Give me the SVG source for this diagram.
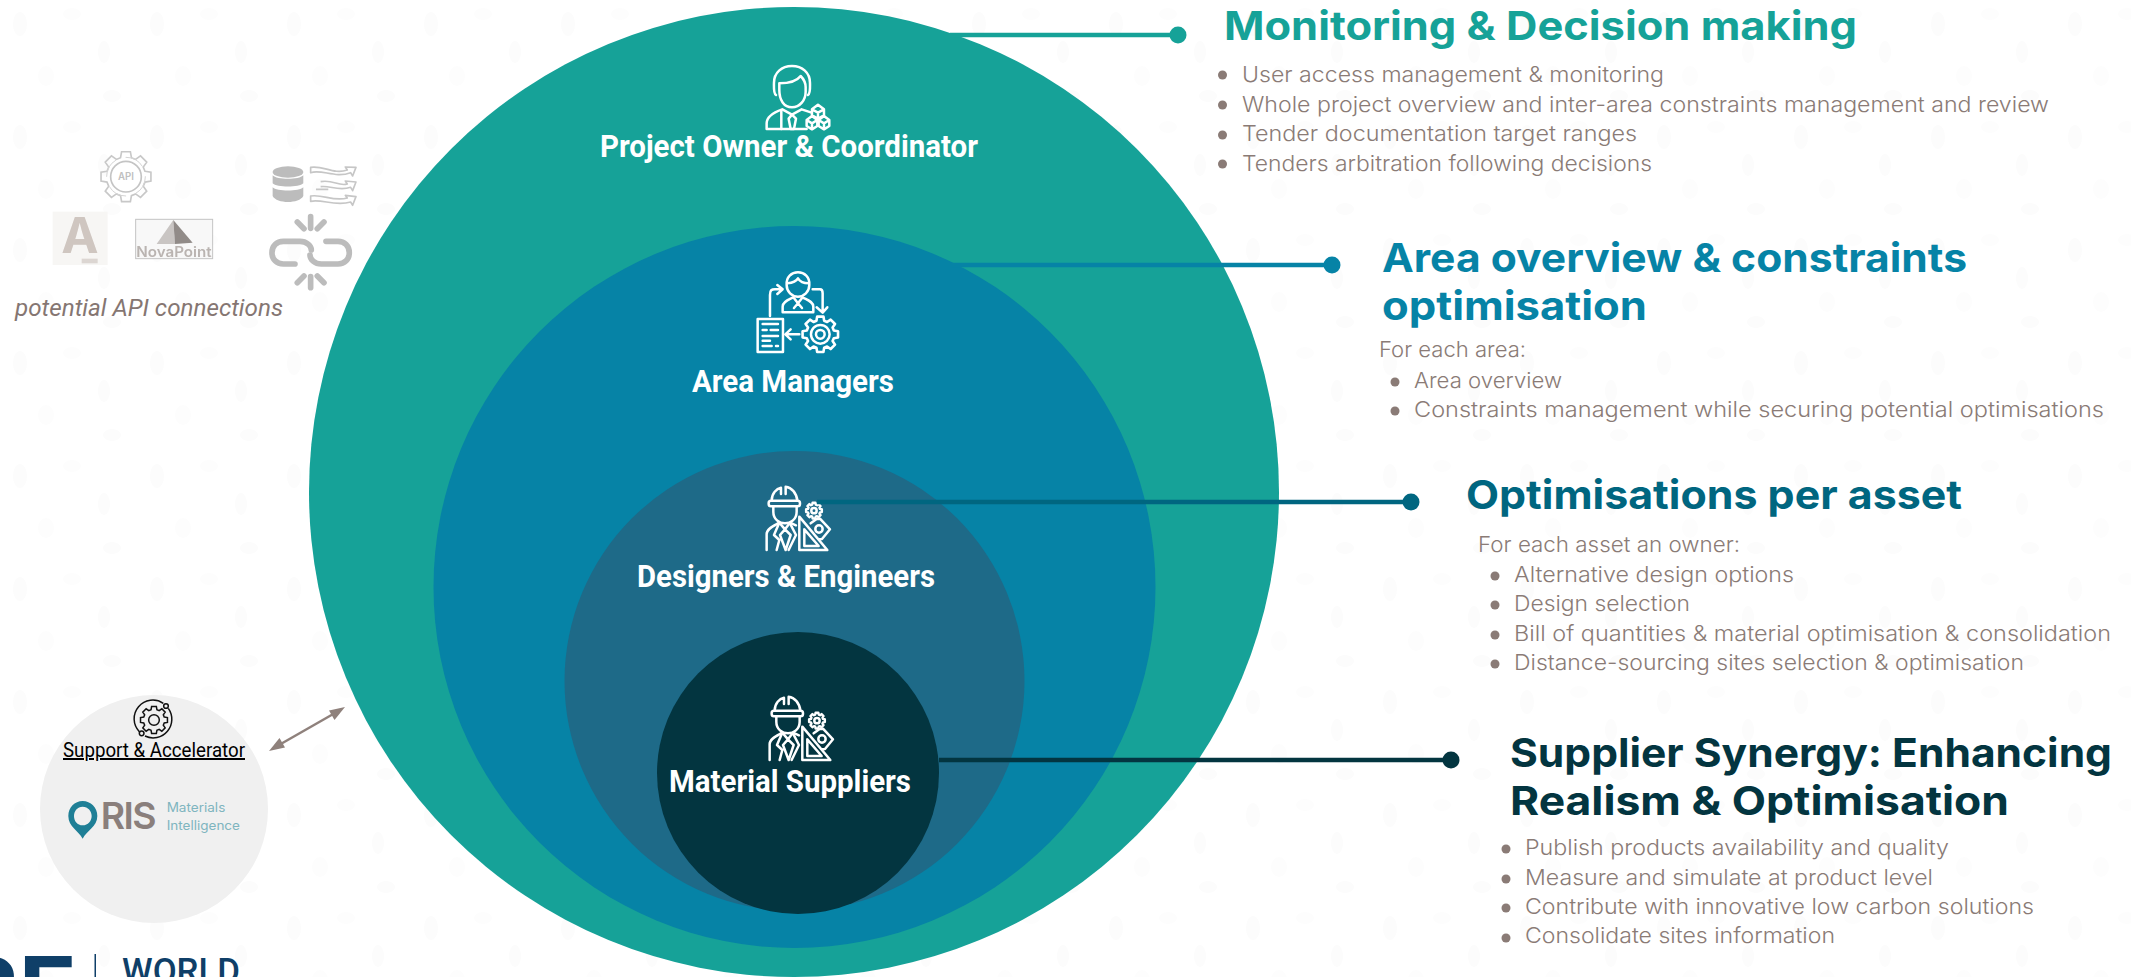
<svg xmlns="http://www.w3.org/2000/svg" width="2131" height="977" viewBox="0 0 2131 977">
<style>
text{font-family:"Inter","Liberation Sans",sans-serif}
.lbl{font-family:"Roboto","Liberation Sans",sans-serif;font-weight:700;font-size:31px;fill:#fff}
.rob{font-family:"Roboto","Liberation Sans",sans-serif}
.ttl{font-weight:700;font-size:40px}
.txt{font-weight:300;font-size:22px;fill:#8a7b76}
.bul{fill:#8a7b76}
.ico{fill:none;stroke:#fff;stroke-width:7.5;stroke-linejoin:round;stroke-linecap:round}
.gry{fill:none;stroke:#c4c4c4;stroke-width:5;stroke-linejoin:round}
.con{fill:none;stroke-width:4.5}
</style>
<defs>
<polygon id="gear" points="7.5,-2.15 9.85,-1.74 9.85,1.74 7.5,2.15 6.82,3.78 8.19,5.74 5.74,8.19 3.78,6.82 2.15,7.5 1.74,9.85 -1.74,9.85 -2.15,7.5 -3.78,6.82 -5.74,8.19 -8.19,5.74 -6.82,3.78 -7.5,2.15 -9.85,1.74 -9.85,-1.74 -7.5,-2.15 -6.82,-3.78 -8.19,-5.74 -5.74,-8.19 -3.78,-6.82 -2.15,-7.5 -1.74,-9.85 1.74,-9.85 2.15,-7.5 3.78,-6.82 5.74,-8.19 8.19,-5.74 6.82,-3.78"/>
<pattern id="bg" width="137" height="113" patternUnits="userSpaceOnUse">
<ellipse cx="20" cy="24" rx="7" ry="12" fill="#fcfcfc"/><ellipse cx="72" cy="14" rx="9" ry="6" fill="#fdfdfd"/><ellipse cx="104" cy="52" rx="6" ry="11" fill="#fcfcfc"/><ellipse cx="46" cy="76" rx="8" ry="10" fill="#fdfdfd"/><ellipse cx="112" cy="96" rx="9" ry="6" fill="#fcfcfc"/>
</pattern>
<filter id="soft" x="-20%" y="-20%" width="140%" height="140%"><feGaussianBlur stdDeviation="2.2"/></filter>
<filter id="softer" x="-20%" y="-20%" width="140%" height="140%"><feGaussianBlur stdDeviation="5"/></filter>
<g id="engineer">
<path d="M455 92C455 70 470 56 483 53V72M497 72V50C515 52 530 70 532 92"/>
<rect x="446" y="92" width="94" height="17" rx="7"/>
<path d="M460 110V125C460 148 478 160 495 160C512 160 530 148 530 125V110"/>
<path d="M440 240V192C440 176 460 168 478 158L495 178L510 158L528 166"/>
<path d="M478 158L462 195L478 210L470 240M495 178L480 195L497 240L512 195L495 178M510 160L528 195L506 240"/>
<path d="M538 240V140L622 240ZM553 228V178L596 228Z"/>
<use href="#gear" transform="translate(582 122) scale(2.4)" stroke-width="3"/>
<circle cx="582" cy="122" r="8"/>
<path d="M572 160L590 147L600 146L630 178L606 207L598 208"/>
<circle cx="597" cy="177" r="11"/>
</g>
</defs>
<rect width="2131" height="977" fill="#fff"/>
<rect x="0" width="2131" height="977" fill="url(#bg)"/>

<g id="node-owner">
<circle cx="794" cy="492" r="485" fill="#16a298"/>
<g class="ico" transform="translate(580 40) scale(.3333)">
<path d="M588 165C580 160 582 140 582 128C582 98 605 78 636 78C667 78 690 98 690 128C690 140 692 160 684 165"/>
<path d="M598 150V130C625 130 650 124 662 108C672 118 677 128 677 142V155C677 180 660 202 636 202C612 202 598 180 598 150Z"/>
<path d="M560 267V250C560 230 578 218 607 208L636 224L665 208L695 218M560 267H680"/>
<path d="M604 210V267M636 224L626 236L632 267H642L648 236Z"/>
<path d="M696 208L714 194L732 208V226L714 236L696 226ZM696 208L714 218L732 208M714 218V232"/>
<path d="M680 240L696 228L712 240V258L696 268L680 258ZM680 240L696 250L712 240M696 250V266"/>
<path d="M716 240L732 228L748 240V258L732 268L716 258ZM716 240L732 250L748 240M732 250V266"/>
</g>
<text class="lbl" x="600" y="157" textLength="378" lengthAdjust="spacingAndGlyphs">Project Owner &amp; Coordinator</text>
</g>

<g id="node-area">
<circle cx="794.5" cy="587" r="361" fill="#0683a6"/>
<g class="ico" transform="translate(580 40) scale(.3333)">
<path d="M620 735C618 710 635 697 654 697C673 697 690 710 688 735C688 755 672 770 654 770C636 770 620 755 620 735Z"/>
<path d="M622 730C640 728 650 722 654 715C660 725 672 730 686 730"/>
<path d="M608 817V800C608 785 625 780 640 772L654 790L668 772C682 780 700 785 700 800V817ZM654 790L642 804M654 790L666 804"/>
<path d="M570 828V765C570 750 575 748 585 748H605M592 735L608 748L592 762"/>
<path d="M698 748H720C728 748 728 755 728 760V815M710 802L728 818L742 802"/>
<rect x="533" y="837" width="76" height="99"/>
<path d="M548 852H594M548 870H560M572 870H594M548 888H594M548 902H570M548 918H575M588 918H594"/>
<path d="M658 883H618M632 868L616 883L632 898"/>
<use href="#gear" transform="translate(721 883) scale(5.4)" stroke-width="1.45"/>
<circle cx="721" cy="883" r="28"/><circle cx="721" cy="883" r="13"/>
</g>
<text class="lbl" x="692" y="392" textLength="202" lengthAdjust="spacingAndGlyphs">Area Managers</text>
</g>

<g id="node-designers">
<circle cx="794.5" cy="681" r="230" fill="#1e6a88"/>
<g class="ico" transform="translate(620 470) scale(.3333)"><use href="#engineer"/></g>
<text class="lbl" x="637" y="587" textLength="298" lengthAdjust="spacingAndGlyphs">Designers &amp; Engineers</text>
</g>

<g id="node-suppliers">
<circle cx="798" cy="773" r="141" fill="#033540"/>
<g class="ico" transform="translate(623 680) scale(.3333)"><use href="#engineer"/></g>
<text class="lbl" x="669" y="792" textLength="242" lengthAdjust="spacingAndGlyphs">Material Suppliers</text>
</g>

<g id="connectors">
<path class="con" stroke="#16a298" d="M950 35H1178"/><circle cx="1178" cy="35" r="8.5" fill="#16a298"/>
<path class="con" stroke="#0683a6" d="M952 265H1332"/><circle cx="1332" cy="265" r="8.5" fill="#0683a6"/>
<path class="con" stroke="#006680" d="M817 502H1411"/><circle cx="1411" cy="502" r="8.5" fill="#006680"/>
<path class="con" stroke="#033540" d="M939 760H1451"/><circle cx="1451" cy="760" r="8.5" fill="#033540"/>
<path fill="none" stroke="#8f817c" stroke-width="2.5" d="M279 745L335 713"/>
<polygon fill="#8f817c" points="269,751 285,747.5 279.5,738"/>
<polygon fill="#8f817c" points="345,707 329,710.5 334.5,720"/>
</g>

<g id="panel-monitoring">
<text class="ttl" fill="#16a298" x="1224" y="40" textLength="633" lengthAdjust="spacingAndGlyphs">Monitoring &amp; Decision making</text>
<circle class="bul" cx="1222.5" cy="75" r="4.5"/><circle class="bul" cx="1222.5" cy="105" r="4.5"/><circle class="bul" cx="1222.5" cy="135" r="4.5"/><circle class="bul" cx="1222.5" cy="164" r="4.5"/>
<text class="txt" x="1242" y="82" textLength="422" lengthAdjust="spacingAndGlyphs">User access management &amp; monitoring</text>
<text class="txt" x="1242" y="112" textLength="807" lengthAdjust="spacingAndGlyphs">Whole project overview and inter-area constraints management and review</text>
<text class="txt" x="1242" y="141" textLength="395" lengthAdjust="spacingAndGlyphs">Tender documentation target ranges</text>
<text class="txt" x="1242" y="171" textLength="410" lengthAdjust="spacingAndGlyphs">Tenders arbitration following decisions</text>
</g>

<g id="panel-area">
<text class="ttl" fill="#0683a6" x="1382" y="272" textLength="585" lengthAdjust="spacingAndGlyphs">Area overview &amp; constraints</text>
<text class="ttl" fill="#0683a6" x="1382" y="320" textLength="265" lengthAdjust="spacingAndGlyphs">optimisation</text>
<text class="txt" x="1379" y="357" textLength="147" lengthAdjust="spacingAndGlyphs">For each area:</text>
<circle class="bul" cx="1395" cy="382" r="4.5"/><circle class="bul" cx="1395" cy="411" r="4.5"/>
<text class="txt" x="1414" y="388" textLength="148" lengthAdjust="spacingAndGlyphs">Area overview</text>
<text class="txt" x="1414" y="417" textLength="690" lengthAdjust="spacingAndGlyphs">Constraints management while securing potential optimisations</text>
</g>

<g id="panel-asset">
<text class="ttl" fill="#006680" x="1466" y="509" textLength="496" lengthAdjust="spacingAndGlyphs">Optimisations per asset</text>
<text class="txt" x="1478" y="552" textLength="262" lengthAdjust="spacingAndGlyphs">For each asset an owner:</text>
<circle class="bul" cx="1495" cy="576" r="4.5"/><circle class="bul" cx="1495" cy="605" r="4.5"/><circle class="bul" cx="1495" cy="635" r="4.5"/><circle class="bul" cx="1495" cy="664" r="4.5"/>
<text class="txt" x="1514" y="582" textLength="280" lengthAdjust="spacingAndGlyphs">Alternative design options</text>
<text class="txt" x="1514" y="611" textLength="176" lengthAdjust="spacingAndGlyphs">Design selection</text>
<text class="txt" x="1514" y="641" textLength="597" lengthAdjust="spacingAndGlyphs">Bill of quantities &amp; material optimisation &amp; consolidation</text>
<text class="txt" x="1514" y="670" textLength="510" lengthAdjust="spacingAndGlyphs">Distance-sourcing sites selection &amp; optimisation</text>
</g>

<g id="panel-supplier">
<text class="ttl" fill="#033540" x="1510" y="767" textLength="602" lengthAdjust="spacingAndGlyphs">Supplier Synergy: Enhancing</text>
<text class="ttl" fill="#033540" x="1510" y="815" textLength="499" lengthAdjust="spacingAndGlyphs">Realism &amp; Optimisation</text>
<circle class="bul" cx="1506" cy="849" r="4.5"/><circle class="bul" cx="1506" cy="879" r="4.5"/><circle class="bul" cx="1506" cy="908" r="4.5"/><circle class="bul" cx="1506" cy="938" r="4.5"/>
<text class="txt" x="1525" y="855" textLength="424" lengthAdjust="spacingAndGlyphs">Publish products availability and quality</text>
<text class="txt" x="1525" y="885" textLength="408" lengthAdjust="spacingAndGlyphs">Measure and simulate at product level</text>
<text class="txt" x="1525" y="914" textLength="509" lengthAdjust="spacingAndGlyphs">Contribute with innovative low carbon solutions</text>
<text class="txt" x="1525" y="943" textLength="310" lengthAdjust="spacingAndGlyphs">Consolidate sites information</text>
</g>

<g id="api-connections">
<g transform="translate(0 120) scale(.3333)">
<use href="#gear" transform="translate(378 170) scale(7.6)" fill="none" stroke="#c8c8c8" stroke-width=".65"/>
<circle cx="378" cy="170" r="46" class="gry"/>
<circle cx="378" cy="170" r="58" fill="none" stroke="#d4d4d4" stroke-width="3" stroke-dasharray="60 30"/>
<text x="378" y="181" text-anchor="middle" font-size="29" font-weight="600" fill="#c0c0c0">API</text>
<g fill="#bcbcbc">
<ellipse cx="864" cy="156" rx="46" ry="17"/>
<path d="M818 166C830 180 898 180 910 166V190C898 203 830 203 818 190Z"/>
<path d="M818 202C830 215 898 215 910 202V228C898 252 830 252 818 228Z"/>
</g>
<g fill="none" stroke="#c6c6c6" stroke-width="5" stroke-linejoin="round">
<path d="M932 142C970 135 1000 165 1042 150L1036 141L1068 142L1058 168L1052 158C1005 176 965 146 932 158Z"/>
<path d="M962 185C1000 178 1015 200 1042 192L1036 183L1068 186L1058 212L1052 202C1015 214 990 196 962 200M948 208H985"/>
<path d="M932 228C970 222 1000 246 1042 234L1036 226L1068 230L1058 256L1052 246C1005 260 965 236 932 244Z"/>
</g>
<g fill="none" stroke="#bcbcbc" stroke-width="17" stroke-linecap="round">
<path d="M885 432H850C830 432 816 418 816 398C816 378 830 364 850 364H900C920 364 934 378 934 390"/>
<path d="M978 364H1014C1034 364 1048 378 1048 398C1048 418 1034 432 1014 432H964C944 432 930 418 930 405"/>
<path d="M932 290V325M892 306L912 326M972 306L952 326M932 470V503M892 488L912 468M972 488L952 468"/>
</g>
<rect x="158" y="275" width="165" height="160" fill="#f7f6f4" filter="url(#soft)"/>
<text x="240" y="398" text-anchor="middle" font-size="150" font-weight="700" fill="#cfc6c0" filter="url(#soft)">A</text>
<rect x="245" y="416" width="48" height="14" fill="#dcd6d2" filter="url(#soft)"/>
<rect x="407" y="298" width="231" height="118" fill="#f8f8f8" stroke="#c4c4c4" stroke-width="3"/>
<polygon points="520,300 470,372 525,372" fill="#c9c5c3" filter="url(#soft)"/>
<polygon points="520,300 525,372 578,368" fill="#918b88" filter="url(#soft)"/>
<text x="522" y="412" text-anchor="middle" font-size="42" font-weight="600" fill="#bab4b1" textLength="226" lengthAdjust="spacingAndGlyphs" filter="url(#soft)">NovaPoint</text>
</g>
<text class="rob" x="15" y="316" font-style="italic" font-size="24" fill="#857672" textLength="268" lengthAdjust="spacingAndGlyphs">potential API connections</text>
</g>

<g id="node-support">
<circle cx="154" cy="809" r="114" fill="#f0f0f0"/>
<g transform="translate(0 680) scale(.3333)" fill="none" stroke="#111" stroke-width="4.5">
<use href="#gear" transform="translate(462 120) scale(4.1)" stroke-width="1.1"/>
<circle cx="462" cy="120" r="16"/>
<path d="M490 70A56 56 0 0 0 418 155M435 168A56 56 0 0 0 505 85"/>
<circle cx="498" cy="78" r="7"/><circle cx="425" cy="160" r="7"/>
</g>
<text class="rob" x="63" y="757" font-size="20" fill="#000" text-decoration="underline" textLength="182" lengthAdjust="spacingAndGlyphs">Support &amp; Accelerator</text>
<g transform="translate(0 680) scale(.3333)">
<path d="M248 476C235 452 205 440 205 408C205 382 224 363 248 363C272 363 292 382 292 408C292 440 260 452 248 476ZM248 380C232 380 222 393 222 408C222 423 232 436 248 436C264 436 275 423 275 408C275 393 264 380 248 380Z" fill="#1f7f96" fill-rule="evenodd"/>
<text x="302" y="447" font-size="112" font-weight="600" fill="#8a7f7c" textLength="168">RIS</text>
<text x="500" y="397" font-size="38" font-weight="400" fill="#7fb5bf" textLength="176" lengthAdjust="spacingAndGlyphs">Materials</text>
<text x="500" y="450" font-size="38" font-weight="400" fill="#7fb5bf" textLength="220" lengthAdjust="spacingAndGlyphs">Intelligence</text>
</g>
</g>

<g id="brand" fill="#0f3f68">
<text class="rob" x="-44" y="1026" font-weight="700" font-size="98">RE</text>
<rect x="94.5" y="954" width="1.5" height="23"/>
<text class="rob" x="122" y="983" font-weight="500" font-size="35" textLength="118" lengthAdjust="spacingAndGlyphs">WORLD</text>
</g>
</svg>
